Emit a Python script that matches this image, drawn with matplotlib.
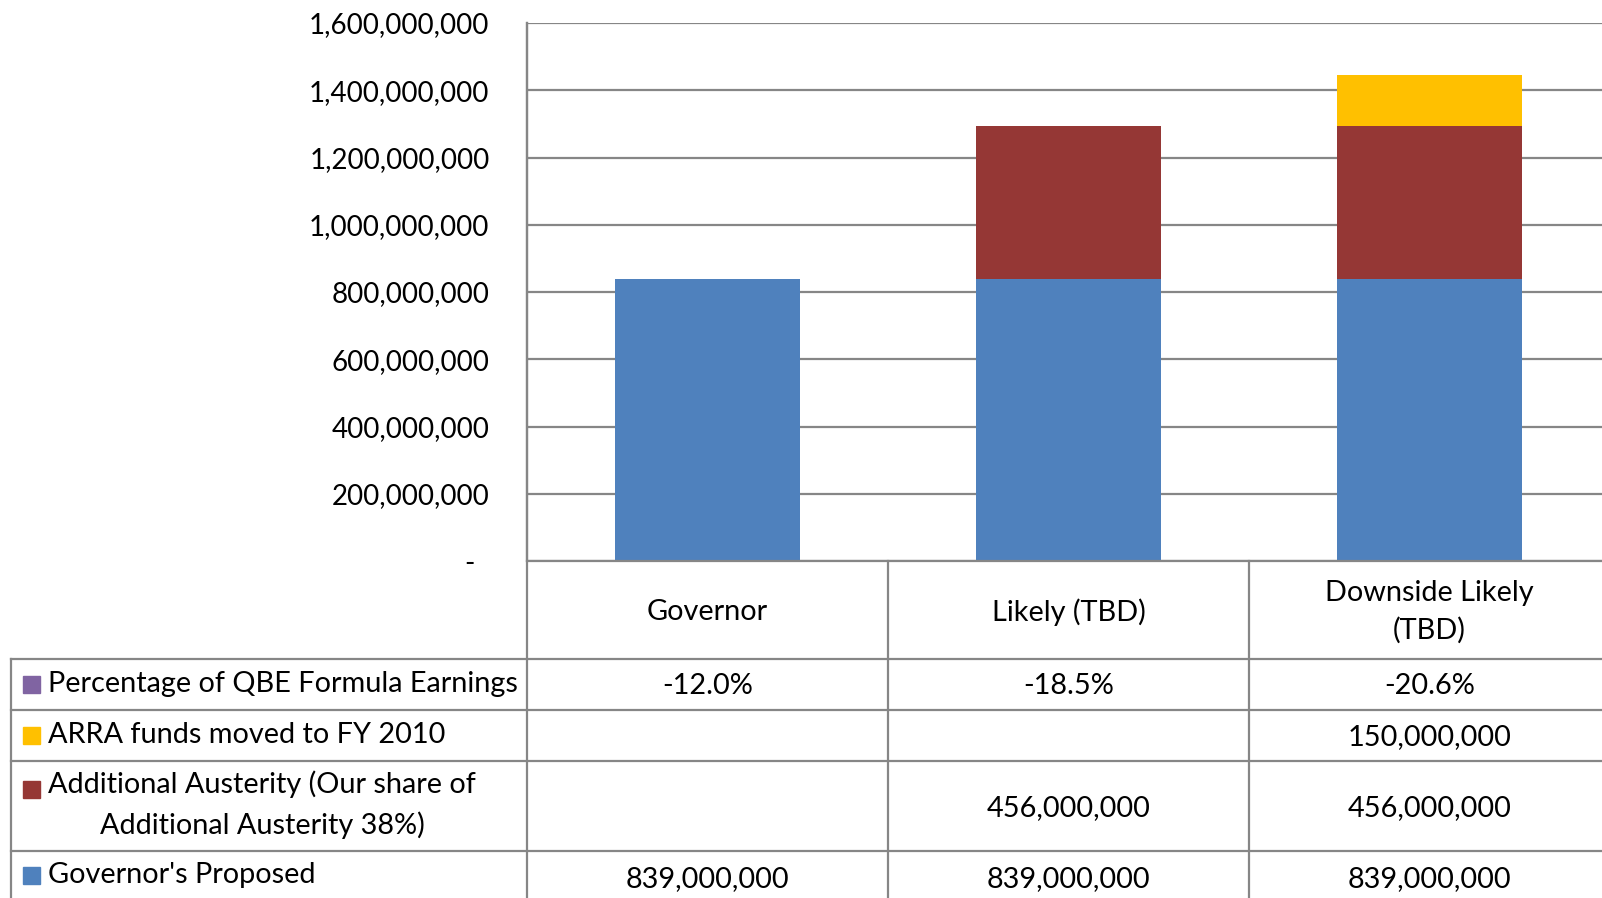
import matplotlib
matplotlib.use("Agg")
import matplotlib.pyplot as plt

# data
categories = ["Governor", "Likely (TBD)", "Downside Likely\n(TBD)"]
governor = [839000000, 839000000, 839000000]
austerity = [0, 456000000, 456000000]
arra = [0, 0, 150000000]
pct_qbe = [-12.0, -18.5, -20.6]
yticks = [0, 200000000, 400000000, 600000000, 800000000,
          1000000000, 1200000000, 1400000000, 1600000000]

row_names = ["Percentage of QBE Formula Earnings",
             "ARRA funds moved to FY 2010",
             "Additional Austerity (Our share of\nAdditional Austerity 38%)",
             "Governor's Proposed"]

c_blue = "#4F81BD"
c_red = "#953735"
c_yellow = "#FFC000"
c_purple = "#8064A2"
c_grid = "#868686"

plt.rcParams['font.family'] = ['Lato', 'DejaVu Sans']
FS = 20
FS_TAB = 20.8

W, H = 1602, 898
fig = plt.figure(figsize=(W / 100, H / 100), dpi=100)

# plot area in pixel terms
x0, x1 = 527, 1610
y_top, y_bot = 23, 561
col_w = (x1 - x0) / 3.0

ax = fig.add_axes([x0 / W, 1 - y_bot / H, (x1 - x0) / W, (y_bot - y_top) / H])
xs = list(range(len(categories)))
bw = 0.51
ax.bar(xs, governor, bw, color=c_blue, zorder=3)
ax.bar(xs, austerity, bw, bottom=governor, color=c_red, zorder=3)
bottom2 = [g + a for g, a in zip(governor, austerity)]
ax.bar(xs, arra, bw, bottom=bottom2, color=c_yellow, zorder=3)

ax.set_xlim(-0.5, len(categories) - 0.5)
ax.set_ylim(0, 1600000000)
ax.set_yticks(yticks)
ax.set_yticklabels(["-  " if v == 0 else f"{v:,.0f}" for v in yticks], fontsize=FS)
ax.tick_params(axis='y', length=0, pad=27)
ax.set_xticks([])
for y in yticks:
    ax.axhline(y, color=c_grid, lw=1.6, zorder=1)
for s in ['top', 'right', 'bottom']:
    ax.spines[s].set_visible(False)
ax.spines['left'].set_color(c_grid)
ax.spines['left'].set_linewidth(1.6)

# data table underneath, drawn in pixel coords on an overlay
tab = fig.add_axes([0, 0, 1, 1], zorder=5)
tab.set_xlim(0, W)
tab.set_ylim(H, 0)
tab.axis('off')
tab.patch.set_alpha(0)

row_edges = [561, 659, 710, 761, 851, 902]
lx = 11
lw = 1.6
# horizontal lines
tab.plot([x0, W], [row_edges[0]] * 2, color=c_grid, lw=lw)
for y in row_edges[1:-1]:
    tab.plot([lx, W], [y, y], color=c_grid, lw=lw)
# vertical lines
tab.plot([x0, x0], [y_top, H], color=c_grid, lw=lw)
for i in range(1, 3):
    xv = x0 + i * col_w
    tab.plot([xv, xv], [row_edges[0], H], color=c_grid, lw=lw)
tab.plot([lx, lx], [row_edges[1], H], color=c_grid, lw=lw)

# header
for i, cat in enumerate(categories):
    cx = x0 + (i + 0.5) * col_w
    tab.text(cx, 612, cat, ha='center', va='center', fontsize=FS_TAB, linespacing=1.5)

values = [
    [f"{v:.1f}%" for v in pct_qbe],
    [f"{v:,.0f}" if v else "" for v in arra],
    [f"{v:,.0f}" if v else "" for v in austerity],
    [f"{v:,.0f}" if v else "" for v in governor],
]
swatches = [c_purple, c_yellow, c_red, c_blue]
label_y = [684, 735, 789, 875]
value_y = [686, 737, 808, 879]

for r in range(4):
    tab.add_patch(plt.Rectangle((22.5, label_y[r] - 8.5), 17, 17, color=swatches[r]))
    for i in range(3):
        cx = x0 + (i + 0.5) * col_w
        tab.text(cx, value_y[r], values[r][i], ha='center', va='center', fontsize=FS_TAB)
    if r == 2:
        # two-line label: first line beside the swatch, block centred
        tab.text(48, label_y[r] - 19, row_names[r], ha='left', va='top', fontsize=FS_TAB,
                 multialignment='center', linespacing=1.6)
    else:
        tab.text(48, label_y[r], row_names[r], ha='left', va='center', fontsize=FS_TAB)

fig.savefig("out.png", dpi=100)
